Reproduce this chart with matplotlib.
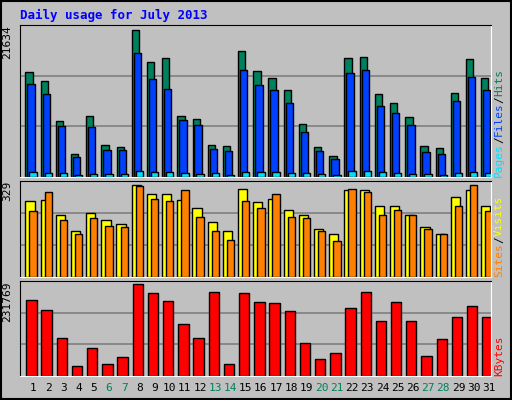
import matplotlib
matplotlib.use("Agg")
import matplotlib.pyplot as plt
import numpy as np

days = list(range(1, 32))
weekends = [6, 7, 13, 14, 20, 21, 27, 28]

hits = [14991, 13711, 8017, 3321, 8729, 4602, 4317, 20969, 16415, 16984, 8729, 8302, 4602, 4459, 17980,
        15134, 14137, 12430, 7590, 4317, 3036, 16984, 17126, 11860, 10579, 8587, 4459, 4175, 12003, 16842, 14137]
files = [13283, 11860, 7306, 2894, 7163, 3890, 3890, 17695, 13995, 12572, 8160, 7448, 4032, 3748, 15276,
         13141, 12430, 10579, 6452, 3748, 2609, 14849, 15276, 10152, 9156, 7448, 3605, 3321, 10864, 14279, 12430]
pages = [760, 617, 617, 332, 474, 474, 474, 900, 760, 760, 617, 474, 617, 332, 760,
         760, 760, 617, 617, 474, 332, 900, 900, 760, 617, 474, 474, 332, 617, 760, 617]
visits = [259, 264, 214, 159, 218, 197, 183, 317, 283, 283, 264, 235, 187, 159, 300,
          256, 269, 231, 214, 166, 149, 297, 297, 242, 245, 214, 173, 149, 273, 297, 245]
sites = [225, 293, 197, 149, 201, 176, 173, 311, 266, 262, 297, 204, 159, 128, 262,
         235, 283, 207, 201, 156, 125, 300, 290, 211, 228, 214, 163, 146, 245, 314, 225]
kbytes = [184416, 159936, 93840, 25296, 69360, 30192, 47328, 223584, 201552, 181968, 125664, 93840, 204000,
          30192, 201552, 179520, 177072, 157488, 81600, 42432, 57120, 164832, 204000, 133008, 179520, 133008,
          49776, 91392, 142800, 169728, 142800]

max_hits, max_visits, max_kb = 21634, 329, 231769

W, H = 512, 400
fig = plt.figure(figsize=(W / 100, H / 100), dpi=100, facecolor="#C0C0C0")
x = np.array(days)
mono = "DejaVu Sans Mono"

def panel(top, bottom, ymax):
    ax = fig.add_axes([20 / W, 1 - bottom / H, 471 / W, (bottom - top) / H])
    ax.set_facecolor("#C0C0C0")
    ax.set_xlim(0.145, 31.145)
    ax.set_ylim(0, ymax)
    for g in (ymax / 3, 2 * ymax / 3):
        ax.axhline(g, color="#808080", lw=1.2, zorder=0)
    ax.set_xticks([]); ax.set_yticks([])
    for s in ax.spines.values():
        s.set_color("black")
    ax.spines["bottom"].set_color("white"); ax.spines["right"].set_color("white")
    ax.text(-0.027, 1.0, str(ymax), transform=ax.transAxes, rotation=90, ha="center", va="top",
            fontsize=8, family=mono)
    return ax

kw = dict(edgecolor="black", linewidth=1, align="center")
a1 = panel(25, 177, max_hits)
a1.bar(x - 0.26, hits, width=0.48, color="#00805C", **kw)
a1.bar(x - 0.13, files, width=0.48, color="#0040FF", **kw)
a1.bar(x, pages, width=0.48, color="#00E0FF", **kw)

a2 = panel(181, 277, max_visits)
a2.bar(x - 0.2, visits, width=0.61, color="#FFFF00", **kw)
a2.bar(x, sites, width=0.48, color="#FF8000", **kw)

a3 = panel(281, 376, max_kb)
a3.bar(x - 0.1, kbytes, width=0.68, color="#FF0000", **kw)

for d in days:
    a3.text(d, -0.13, str(d), transform=a3.get_xaxis_transform(), ha="center", va="center",
            fontsize=8, family=mono, color="#00805C" if d in weekends else "black")

fig.text(20 / W, 1 - 15 / H, "Daily usage for July 2013", color="#0000FF", fontsize=9,
         weight="bold", family=mono, va="center")

renderer = fig.canvas.get_renderer()

def side(ax, parts):
    # rotated labels along the right side, reading upward, measured one after another
    pos = ax.get_position()
    y = pos.y0 * H
    for txt, col in parts:
        t = fig.text(499 / W, y / H, txt, rotation=90, ha="center", va="bottom",
                     fontsize=8, family=mono, color=col)
        y += t.get_window_extent(renderer).height

side(a1, [("Pages", "#00E0FF"), ("/", "black"), ("Files", "#0040FF"), ("/", "black"), ("Hits", "#00805C")])
side(a2, [("Sites", "#FF8000"), ("/", "black"), ("Visits", "#FFFF00")])
side(a3, [("KBytes", "#FF0000")])

border = plt.Rectangle((0.002, 0.002), 0.996, 0.996, transform=fig.transFigure, fill=False,
                       edgecolor="black", lw=1.5)
fig.patches.append(border)
fig.savefig("out.png", dpi=100, facecolor=fig.get_facecolor())
